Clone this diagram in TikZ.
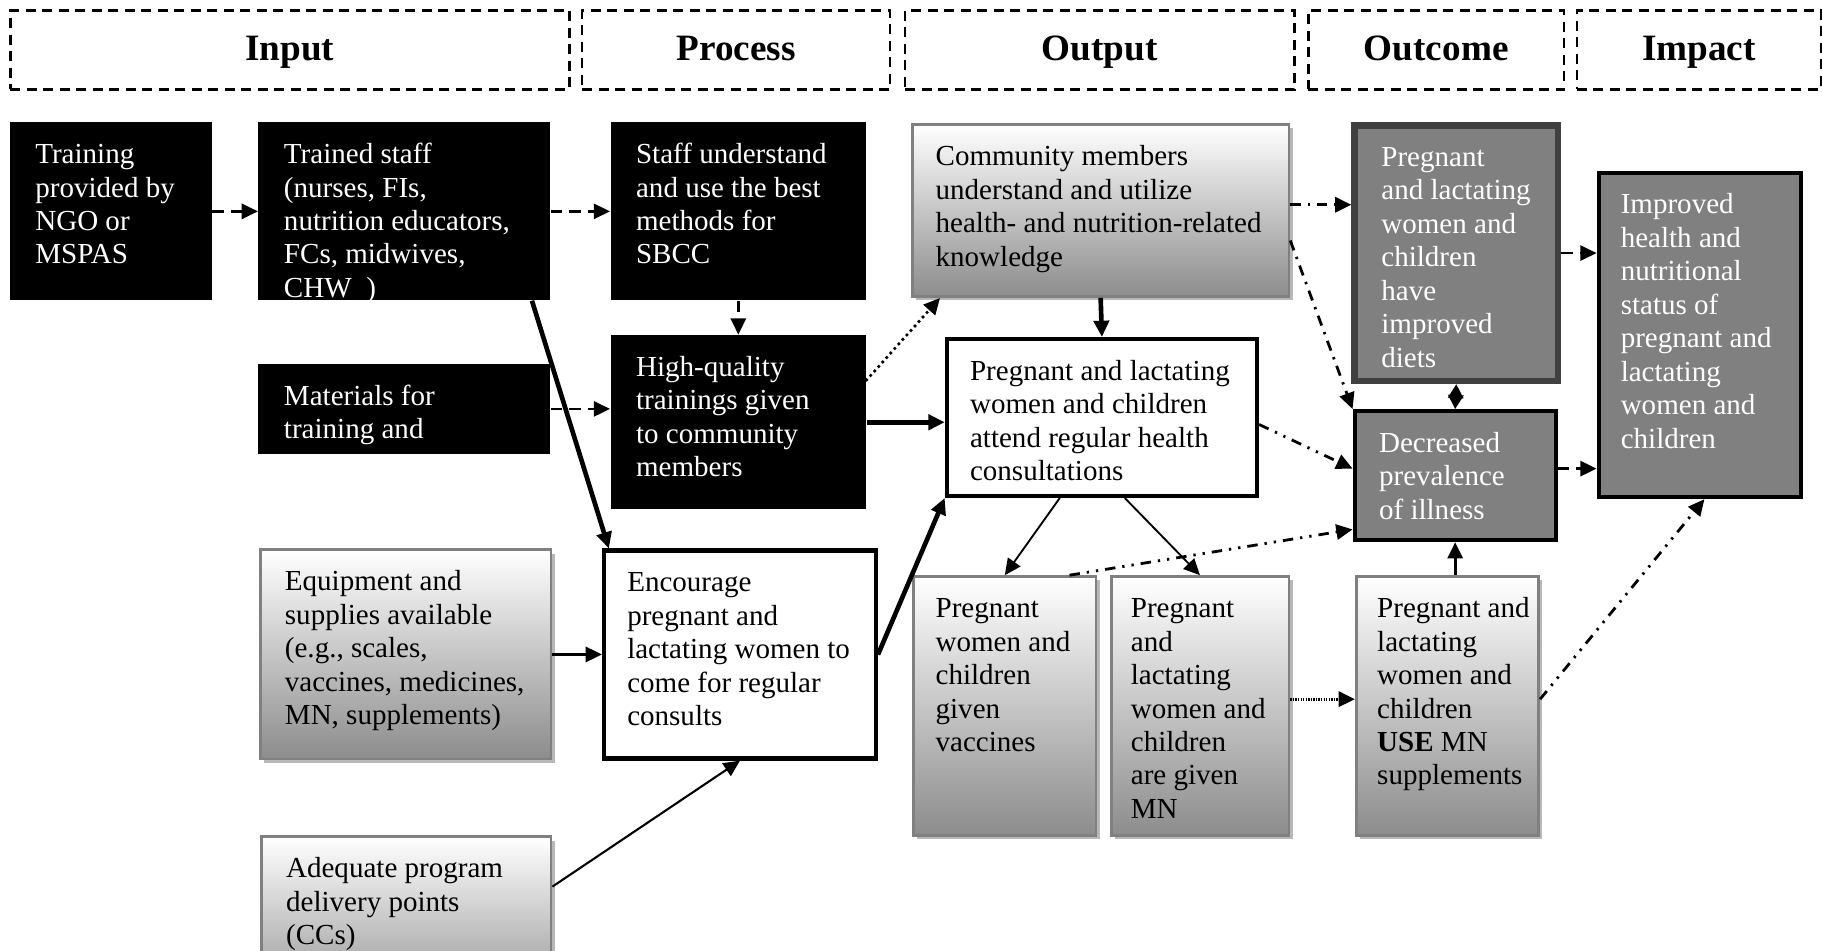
\documentclass[tikz,border=0pt]{standalone}
\usepackage{fontspec}
\setmainfont{Liberation Serif}
\usetikzlibrary{arrows.meta,shadows}

\newcommand{\bt}[4]{\vbox to #2{\hsize=#1\relax\parindent=0pt\leftskip=#3\relax\rightskip=-30pt plus 1fil\relax\parfillskip=0pt plus 1fil\relax\let\\\newline\vskip 7.6pt\noindent\strut #4\par\vfil}}

\begin{document}
\begin{tikzpicture}[x=0.5pt,y=-0.5pt,
  every node/.style={inner sep=0pt, anchor=north west, font=\fontsize{12.5}{14.4}\selectfont},
  blk/.style={fill=black, text=white},
  grad/.style={draw=black!50, line width=1.2pt, top color=white, bottom color=black!45,
     drop shadow={shadow xshift=1.6pt, shadow yshift=-1.6pt, fill=black!28, opacity=1}},
  wht/.style={draw=black, line width=1.8pt, fill=white},
  dk/.style={draw=black, line width=1.8pt, fill=black!50, text=white},
  dkd/.style={draw=black!75, line width=2.8pt, fill=black!50, text=white},
  hdr/.style={draw=black, line width=1pt, dash pattern=on 4.3pt off 2.8pt,
     font=\fontsize{16}{19}\selectfont\bfseries, minimum height=34pt,
     text height=11pt, text depth=2pt},
  tip/.style={Triangle[length=7pt,width=6.5pt]},
  arr/.style={-{Triangle[length=7pt,width=6.5pt]}},
  dsh/.style={line width=1.1pt, dash pattern=on 5pt off 3pt},
  thk/.style={line width=2pt},
  nrm/.style={line width=1.2pt},
  thn/.style={line width=0.9pt},
  fine/.style={line width=0.8pt},
  dtd/.style={line width=1.6pt, dash pattern=on 0pt off 2.6pt, line cap=round},
  dens/.style={line width=1.3pt, dash pattern=on 0.6pt off 0.5pt},
  dd/.style={line width=1.2pt, dash pattern=on 4.5pt off 3pt on 1pt off 3pt},
  ddd/.style={line width=1.2pt, dash pattern=on 4.5pt off 3pt on 1pt off 3pt on 1pt off 3pt}
]
\useasboundingbox (0,0) rectangle (1568,818);
\clip (0,0) rectangle (1568,818);

% headers
\node[hdr, minimum width=240.5pt] (hin) at (8,8) {Input};
\node[hdr, minimum width=132.5pt] (hpr) at (500,8) {Process};
\node[hdr, minimum width=167.5pt] (hou) at (778,8) {Output};
\node[hdr, minimum width=110pt] (hoc) at (1125,8) {Outcome};
\node[hdr, minimum width=105pt] (him) at (1356,8) {Impact};

% input column
\node[blk] (train) at (8,105) {\bt{87pt}{76.5pt}{11pt}{Training\\provided by\\NGO or\\MSPAS}};
\node[blk] (staff) at (222,105) {\bt{125.5pt}{76.5pt}{11pt}{Trained staff\\(nurses, FIs,\\nutrition educators,\\FCs, midwives,\\CHW\ \ )}};
\node[blk] (mat) at (222,313) {\bt{125.5pt}{38.5pt}{11pt}{Materials for\\training and}};
\node[grad] (equip) at (223,472) {\bt{125pt}{90pt}{10.5pt}{Equipment and\\supplies available\\(e.g., scales,\\vaccines, medicines,\\MN, supplements)}};
\node[grad] (adeq) at (224,719) {\bt{124.5pt}{75pt}{10.5pt}{Adequate program\\delivery points\\(CCs)}};

% process column
\node[blk] (sbcc) at (525,105) {\bt{110pt}{76.5pt}{11pt}{Staff understand\\and use the best\\methods for\\SBCC}};
\node[blk] (hq) at (525,288) {\bt{110pt}{75pt}{11pt}{High-quality\\trainings given\\to community\\members}};
\node[wht] (enc) at (518,472) {\bt{117pt}{89.5pt}{10pt}{Encourage\\pregnant and\\lactating women to\\come for regular\\consults}};

% output column
\node[grad] (comm) at (784,106) {\bt{162pt}{74pt}{10pt}{Community members\\understand and utilize\\health- and nutrition-related\\knowledge}};
\node[wht] (att) at (813,290) {\bt{133.5pt}{67.5pt}{10pt}{Pregnant and lactating\\women and children\\attend regular health\\consultations}};
\node[grad] (vac) at (785,495) {\bt{78.5pt}{111.5pt}{9.5pt}{Pregnant\\women and\\children\\given\\vaccines}};
\node[grad] (gmn) at (955,495) {\bt{76.5pt}{111.5pt}{8.5pt}{Pregnant\\and\\lactating\\women and\\children\\are given\\MN}};

% outcome column
\node[grad] (use) at (1166,495) {\bt{78.5pt}{111.5pt}{9pt}{Pregnant and\\lactating\\women and\\children\\\textbf{USE} MN\\supplements}};
\node[dkd] (diet) at (1163,105) {\bt{87.5pt}{110pt}{11.5pt}{Pregnant\\and lactating\\women and\\children\\have\\improved\\diets}};
\node[dk] (decr) at (1164,352) {\bt{86.5pt}{55.5pt}{10.5pt}{Decreased\\prevalence\\of illness}};

% impact column
\node[dk] (impr) at (1374,147) {\bt{87pt}{139.5pt}{9.5pt}{Improved\\health and\\nutritional\\status of\\pregnant and\\lactating\\women and\\children}};

% connectors
\draw[dsh,arr] (train.east) -- (staff.west);
\draw[dsh,arr] (staff.east) -- (sbcc.west);
\draw[dsh,arr] (mat.east) -- (mat.east -| hq.west);
\draw[dsh,arr] (sbcc.south) -- (hq.north);
\draw[thk,arr] ([xshift=-8pt]staff.south east) -- ([xshift=3pt]enc.north west);
\draw[thk,arr] (hq.east) -- (hq.east -| att.west);
\draw[dtd,arr] ([yshift=-19.5pt]hq.north east) -- ([xshift=12.5pt]comm.south west);
\draw[thk,arr] (comm.south) -- (att.north);
\draw[nrm,arr] (equip.east) -- (equip.east -| enc.west);
\draw[thn,arr] ([yshift=-22pt]adeq.north east) -- (enc.south);
\draw[thk,arr] (enc.east) -- (att.south west);
\draw[fine,arr] ([xshift=49.5pt]att.south west) -- (vac.north);
\draw[fine,arr] ([xshift=77.5pt]att.south west) -- (gmn.north);
\draw[ddd,arr] ([xshift=-12pt]vac.north east) -- ([yshift=5.5pt]decr.south west);
\draw[dens,arr] ([yshift=3pt]gmn.east) -- ([yshift=3pt]gmn.east -| use.west);
\draw[nrm,arr] (use.north -| decr.south) -- (decr.south);
\draw[ddd,arr] ([yshift=3pt]use.east) -- ([xshift=2pt]impr.south);
\draw[dd,arr] ([yshift=2.5pt]comm.east) -- ([yshift=2.5pt]comm.east -| diet.west);
\draw[dd,arr] ([yshift=-50.5pt]comm.north east) -- (decr.north west);
\draw[ddd,arr] ([yshift=-3pt]att.east) -- ([yshift=3pt]decr.west);
\draw[nrm,{Triangle[length=6pt,width=6.5pt]}-{Triangle[length=6pt,width=6.5pt]}] (diet.south) -- (decr.north);
\draw[dsh,arr] (diet.east) -- (diet.east -| impr.west);
\draw[dsh,arr] ([yshift=3pt]decr.east) -- ([yshift=3pt]decr.east -| impr.west);
\end{tikzpicture}
\end{document}
